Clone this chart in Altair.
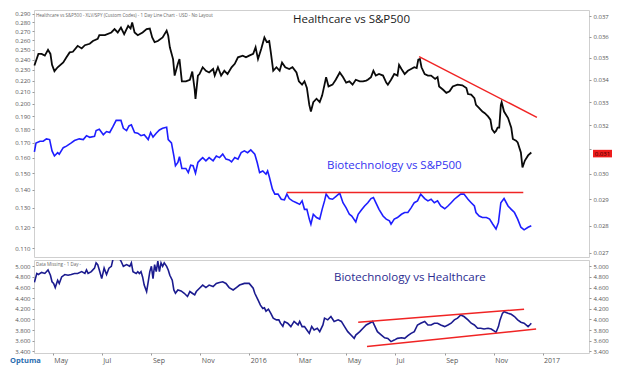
import altair as alt
import pandas as pd

# ---------------- data (day offsets from 2016-01-01, value) ----------------
BASE = pd.Timestamp("2016-01-01")

# Healthcare vs S&P500 (XLV / SPX)  -> right axis
hc_pts = [(-268,0.03465),(-263,0.03519),(-259,0.03519),(-255,0.03511),(-251,0.03538),(-248,0.03519),
(-246,0.03468),(-243,0.03439),(-239,0.03457),(-232,0.03479),(-228,0.03503),(-224,0.03526),(-220,0.03529),
(-214,0.03557),(-209,0.03545),(-205,0.0356),(-199,0.03567),(-195,0.0358),(-189,0.0359),(-187,0.03608),
(-180,0.03608),(-172,0.03621),(-168,0.03637),(-164,0.03621),(-160,0.03645),(-156,0.03613),(-151,0.03653),
(-148,0.0364),(-146,0.03669),(-143,0.03621),(-139,0.03608),(-133,0.03621),(-128,0.03637),(-124,0.0364),
(-121,0.03597),(-118,0.03575),(-114,0.0358),(-108,0.03597),(-103,0.0363),(-101,0.03605),(-99,0.0355),
(-95,0.03495),(-93,0.03419),(-89,0.03473),(-87,0.03495),(-84,0.03393),(-79,0.03393),(-74,0.034),
(-71,0.03437),(-68,0.03355),(-67,0.03314),(-64,0.03419),(-62,0.03426),(-58,0.03457),(-54,0.03441),
(-50,0.03433),(-45,0.03449),(-43,0.03419),(-39,0.03457),(-35,0.03419),(-31,0.03441),(-27,0.03426),
(-22,0.03457),(-18,0.03473),(-14,0.03503),(-8,0.03511),(-4,0.03503),(0,0.03511),(5,0.03519),(8,0.0355),
(11,0.03495),(15,0.03542),(19,0.03597),(22,0.03575),(25,0.0358),(27,0.03526),(30,0.03441),(34,0.03457),
(38,0.03441),(41,0.03479),(45,0.03457),(50,0.03449),(54,0.03457),(59,0.03433),(62,0.03393),(66,0.03378),
(69,0.03393),(72,0.03363),(75,0.03288),(77,0.03259),(80,0.033),(84,0.03315),(88,0.033),(91,0.03329),
(94,0.03378),(96,0.03412),(99,0.0337),(104,0.03378),(108,0.034),(113,0.03433),(117,0.03412),(121,0.03387),
(125,0.03393),(129,0.03378),(133,0.034),(138,0.03393),(142,0.03393),(146,0.03396),(148,0.034),(152,0.03412),
(155,0.03441),(158,0.03419),(162,0.03426),(167,0.03419),(171,0.03387),(173,0.03378),(177,0.034),(181,0.03426),
(185,0.03419),(187,0.03468),(190,0.03449),(194,0.03426),(198,0.03441),(202,0.03449),(206,0.03457),
(209,0.03453),(211,0.03492),(213,0.03495),(215,0.03457),(219,0.03426),(223,0.03419),(227,0.03419),
(232,0.03404),(235,0.03412),(237,0.0337),(242,0.03355),(246,0.03341),(250,0.03348),(254,0.0337),
(260,0.03378),(266,0.03375),(271,0.03363),(273,0.03336),(277,0.03333),(281,0.03318),(283,0.03288),
(287,0.03274),(291,0.03259),(294,0.03252),(298,0.03238),(301,0.03224),(303,0.03183),(306,0.03169),
(308,0.03176),(310,0.0319),(312,0.0319),(314,0.03288),(315,0.033),(318,0.03259),(323,0.03231),(327,0.0319),
(329,0.03142),(333,0.03135),(335,0.03128),(337,0.03107),(339,0.03086),(341,0.03025),(344,0.03053),
(348,0.03074),(352,0.03086)]

# Biotechnology vs S&P500  -> left axis
bt_pts = [(-268,0.1638),(-266,0.170),(-261,0.1712),(-257,0.1712),(-253,0.1729),(-249,0.1724),(-246,0.1645),
(-243,0.1611),(-239,0.1633),(-237,0.1623),(-232,0.1667),(-228,0.1678),(-222,0.170),(-218,0.1717),(-212,0.1729),
(-207,0.1724),(-203,0.1752),(-199,0.174),(-193,0.1747),(-191,0.1789),(-187,0.1799),(-182,0.1759),(-178,0.1782),
(-174,0.1775),(-170,0.1818),(-166,0.1866),(-160,0.1866),(-157,0.1806),(-153,0.1789),(-150,0.1824),(-147,0.1832),
(-143,0.1775),(-139,0.177),(-135,0.1752),(-131,0.1759),(-126,0.1724),(-123,0.1775),(-120,0.1742),(-116,0.177),
(-112,0.1794),(-108,0.1806),(-103,0.1814),(-101,0.1724),(-97,0.170),(-94,0.1611),(-92,0.1547),(-89,0.1568),
(-87,0.1606),(-84,0.153),(-79,0.153),(-76,0.1504),(-73,0.1551),(-70,0.1547),(-67,0.150),(-64,0.1568),
(-61,0.1585),(-58,0.160),(-54,0.1579),(-50,0.160),(-45,0.1579),(-41,0.1611),(-37,0.160),(-33,0.1623),
(-29,0.159),(-25,0.1585),(-22,0.1572),(-18,0.160),(-14,0.159),(-10,0.1633),(-6,0.1645),(-2,0.1633),
(2,0.1652),(7,0.1623),(10,0.1568),(13,0.1504),(17,0.1514),(21,0.1494),(23,0.1514),(25,0.148),(29,0.1404),
(32,0.1376),(36,0.1376),(40,0.1347),(44,0.1344),(47,0.1376),(50,0.1351),(54,0.1338),(59,0.1328),(63,0.1319),
(66,0.1338),(69,0.1292),(72,0.1292),(75,0.1241),(77,0.1215),(80,0.1266),(84,0.1249),(88,0.1241),(91,0.1292),
(94,0.1338),(96,0.1376),(100,0.1351),(104,0.1347),(108,0.1362),(113,0.1381),(117,0.1328),(121,0.130),
(125,0.1266),(128,0.1257),(133,0.1227),(136,0.1266),(140,0.1288),(144,0.131),(148,0.1328),(152,0.1351),
(155,0.1357),(158,0.1328),(162,0.1292),(167,0.1257),(171,0.1241),(175,0.1232),(177,0.1215),(181,0.1241),
(185,0.1249),(190,0.1266),(194,0.1275),(198,0.1275),(202,0.130),(206,0.1328),(210,0.1338),(214,0.1376),
(219,0.1351),(223,0.1338),(227,0.1347),(231,0.1328),(235,0.1338),(239,0.131),(244,0.1295),(248,0.131),
(252,0.1328),(256,0.1347),(260,0.1362),(264,0.1376),(268,0.1376),(273,0.1347),(277,0.1328),(281,0.131),
(283,0.1275),(287,0.1257),(291,0.1249),(296,0.1249),(300,0.1241),(304,0.1215),(308,0.1191),(311,0.1224),
(314,0.1328),(318,0.1351),(323,0.131),(327,0.1292),(331,0.1275),(335,0.1241),(339,0.120),(343,0.1187),
(348,0.120),(352,0.1207)]

# Biotechnology vs Healthcare  -> lower panel
bh_pts = [(-268,4.70),(-265,4.866),(-263,4.846),(-259,4.886),(-255,4.866),(-251,4.932),(-248,4.832),(-246,4.709),
(-244,4.678),(-242,4.60),(-239,4.738),(-237,4.678),(-234,4.80),(-230,4.846),(-226,4.832),(-222,4.846),
(-218,4.866),(-214,4.866),(-209,4.90),(-205,4.866),(-203,4.932),(-201,4.866),(-197,4.90),(-193,4.966),
(-191,5.066),(-189,5.032),(-187,4.932),(-184,4.769),(-181,4.966),(-178,4.846),(-175,4.966),(-172,5.0),
(-170,5.13),(-167,5.15),(-164,5.2),(-160,5.10),(-157,5.0),(-153,5.032),(-149,5.0),(-147,5.066),(-145,4.90),
(-141,4.866),(-139,4.90),(-137,4.866),(-135,4.90),(-133,4.80),(-131,4.647),(-128,4.525),(-126,4.709),
(-124,4.90),(-122,5.0),(-120,4.769),(-118,5.032),(-116,4.90),(-114,5.10),(-112,4.90),(-110,5.066),(-108,5.0),
(-106,5.066),(-103,5.0),(-101,4.932),(-99,4.832),(-96,4.738),(-94,4.555),(-92,4.493),(-89,4.555),(-85,4.536),
(-81,4.493),(-77,4.432),(-74,4.525),(-71,4.493),(-68,4.462),(-66,4.525),(-62,4.587),(-58,4.647),(-54,4.60),
(-50,4.647),(-45,4.618),(-41,4.678),(-37,4.696),(-33,4.709),(-29,4.678),(-25,4.60),(-20,4.555),(-16,4.60),
(-12,4.647),(-6,4.678),(0,4.678),(5,4.587),(7,4.493),(11,4.367),(14,4.270),(17,4.206),(19,4.219),(21,4.156),
(24,4.193),(27,4.115),(30,4.024),(34,3.992),(37,3.992),(39,3.929),(42,3.87),(44,3.96),(48,3.929),(52,3.865),
(56,3.962),(61,3.896),(63,3.962),(66,3.865),(69,3.865),(72,3.80),(75,3.738),(78,3.865),(81,3.80),(85,3.833),
(88,3.77),(92,3.896),(94,4.024),(98,3.992),(102,4.055),(106,3.962),(111,3.992),(115,3.962),(119,3.865),
(123,3.77),(127,3.706),(131,3.643),(133,3.706),(138,3.77),(142,3.833),(146,3.896),(150,3.929),(154,3.962),
(156,3.896),(160,3.77),(165,3.706),(169,3.655),(173,3.643),(177,3.582),(181,3.611),(185,3.643),(190,3.655),
(194,3.643),(198,3.694),(202,3.738),(206,3.77),(210,3.896),(214,3.929),(219,3.962),(223,3.896),(227,3.896),
(231,3.929),(235,3.929),(239,3.896),(244,3.865),(248,3.896),(252,3.929),(256,3.992),(260,4.024),(264,4.084),
(268,4.055),(273,3.992),(277,3.929),(281,3.896),(285,3.833),(289,3.833),(293,3.82),(298,3.833),(302,3.82),
(306,3.781),(308,3.757),(311,3.865),(313,3.992),(316,4.115),(318,4.145),(323,4.115),(327,4.097),(331,4.055),
(335,3.992),(339,3.948),(343,3.929),(348,3.865),(350,3.896),(352,3.929)]

# trend lines drawn on the chart
hc_trend = [(212,0.03506),(359,0.03234)]
bt_resist = [(47,0.1385),(342,0.1385)]
bh_upper = [(136,3.948),(343,4.193)]
bh_lower = [(147,3.491),(358,3.82)]

last_label = "0.031"
last_box = (0.03066, 0.03097)

x_ticks = ["2015-05-01","2015-07-01","2015-09-01","2015-11-01","2016-01-01","2016-03-01",
           "2016-05-01","2016-07-01","2016-09-01","2016-11-01","2017-01-01"]
left_ticks = [0.11,0.12,0.13,0.14,0.15,0.16,0.17,0.18,0.19,0.20,0.21,0.22,0.23,0.24,0.25,0.26,0.27,0.28,0.29]
right_ticks = [0.027,0.028,0.029,0.030,0.031,0.032,0.033,0.034,0.035,0.036,0.037]
bottom_ticks = [3.4,3.6,3.8,4.0,4.2,4.4,4.6,4.8,5.0]

# ---------------- helpers ----------------
def frame(pts):
    return pd.DataFrame({
        "date": [(BASE + pd.Timedelta(days=d)).strftime("%Y-%m-%d") for d, _ in pts],
        "v": [v for _, v in pts],
    })

def dt(s):
    t = pd.Timestamp(s)
    return alt.DateTime(year=t.year, month=t.month, date=t.day, hours=t.hour, utc=True)

W, H1, H2 = 555, 247, 93
FONT = "Open Sans"
GRAY = "#555555"

x_scale = alt.Scale(type="utc", domain=[dt("2015-04-07 12:00"), dt("2017-02-28")], nice=False)

def y_axis(orient, values, expr=None):
    kw = dict(orient=orient, values=values, format=".3f", labelFontSize=6, labelColor=GRAY,
              labelFont=FONT, tickSize=2, tickColor="#999999", domain=False, grid=False,
              title=None, labelPadding=2, minExtent=25, maxExtent=25,
              labelOverlap=False, labelFlush=False)
    if expr:
        kw["labelExpr"] = expr
    return alt.Axis(**kw)

ax_left = y_axis("left", left_ticks)
# the 0.031 level is shown by the red last-value box instead of a plain label
ax_right = y_axis("right", right_ticks,
                  "abs(datum.value - 0.031) < 0.0001 ? '' : format(datum.value, '.3f')")
ax_bl = y_axis("left", bottom_ticks)
ax_br = y_axis("right", bottom_ticks)

s_left = alt.Scale(type="log", domain=[0.1061, 0.2945], nice=False)
s_right = alt.Scale(type="log", domain=[0.02685, 0.03731], nice=False)
s_bottom = alt.Scale(type="linear", domain=[3.368, 5.119], nice=False, zero=False)

x_none = alt.X("date:T", scale=x_scale, axis=None)
x_bottom = alt.X("date:T", scale=x_scale, axis=alt.Axis(
    values=[dt(s) for s in x_ticks],
    labelExpr="utcFormat(datum.value, '%m') == '01' ? utcFormat(datum.value, '%Y') : utcFormat(datum.value, '%b')",
    labelAlign="left", labelOffset=1, labelFontSize=7, labelColor=GRAY, labelFont=FONT,
    tickSize=2, tickColor="#999999", domain=False, grid=False, title=None, labelPadding=1,
    labelFlush=False, labelOverlap=False))

def line(pts, color, sw, scale, axis, x_enc, clip=False, opacity=1):
    return alt.Chart(frame(pts)).mark_line(color=color, strokeWidth=sw, clip=clip,
                                           strokeOpacity=opacity).encode(
        x=x_enc, y=alt.Y("v:Q", scale=scale, axis=axis))

def label(text, x, y, size, color, weight="normal"):
    return alt.Chart(pd.DataFrame({"t": [text]})).mark_text(
        align="left", baseline="alphabetic", font=FONT, fontSize=size, color=color,
        fontWeight=weight).encode(x=alt.value(x), y=alt.value(y), text="t:N")

RED = "#f02424"

# ---------------- top panel ----------------
left_group = alt.layer(
    line(bt_pts, "#1e1eff", 1.6, s_left, ax_left, x_none),
    line(bt_resist, RED, 1.5, s_left, ax_left, x_none),
)

box_df = pd.DataFrame({"lo": [last_box[0]], "hi": [last_box[1]], "t": [last_label],
                       "mid": [(last_box[0] * last_box[1]) ** 0.5]})
right_group = alt.layer(
    line(hc_pts, "#0a0a0a", 1.8, s_right, ax_right, x_none),
    line(hc_trend, RED, 1.5, s_right, ax_right, x_none),
    alt.Chart(box_df).mark_rect(color="#ee1c1c").encode(
        x=alt.value(W + 4), x2=alt.value(W + 23),
        y=alt.Y("lo:Q", scale=s_right, axis=ax_right), y2="hi:Q"),
    alt.Chart(box_df).mark_text(font=FONT, fontSize=6, color="#3a0000", align="center",
                                baseline="middle").encode(
        x=alt.value(W + 13.5), y=alt.Y("mid:Q", scale=s_right, axis=ax_right), text="t:N"),
)

top = alt.layer(
    left_group, right_group,
    label("Healthcare vs S&P500 - XLV/SPY (Custom Codes) - 1 Day Line Chart - USD - No Layout",
          2, 7, 4.5, "#666666"),
    label("Healthcare vs S&P500", 259, 13, 11.5, "#1a1a1a"),
    label("Biotechnology vs S&P500", 293, 159, 11.5, "#3434f0"),
).resolve_scale(y="independent").properties(width=W, height=H1)

# ---------------- bottom panel ----------------
bottom = alt.layer(
    alt.layer(
        line(bh_pts, "#1b1b8f", 1.6, s_bottom, ax_bl, x_bottom, clip=True),
        line(bh_upper, RED, 1.5, s_bottom, ax_bl, x_bottom),
        line(bh_lower, RED, 1.5, s_bottom, ax_bl, x_bottom),
    ),
    line(bh_pts, "#1b1b8f", 1, s_bottom, ax_br, x_bottom, clip=True, opacity=0),
    label("Data Missing - 1 Day -", 2, 6, 4.5, "#666666"),
    label("Biotechnology vs Healthcare", 300, 21, 11.5, "#2b2b90"),
    label("Optuma", -24, H2 + 10, 7.5, "#2a6db0", "bold"),
).resolve_scale(y="independent").properties(width=W, height=H2)

chart = alt.vconcat(top, bottom, spacing=1).properties(
    padding={"left": 0, "top": 1, "right": 0, "bottom": 0},
    background="white",
).configure_view(stroke="#cfcfcf", strokeWidth=1)

chart.save("out.html", embed_options={"renderer": "svg", "actions": False})
